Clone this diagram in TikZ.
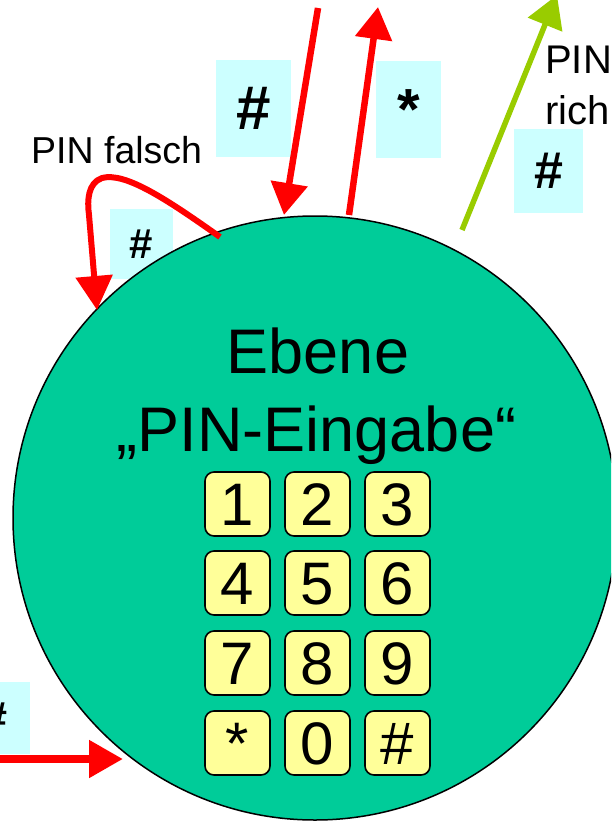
\documentclass[tikz,border=0pt]{standalone}
\usepackage{fontspec}
\setmainfont{Liberation Sans}
\usetikzlibrary{arrows.meta}
\definecolor{redarr}{RGB}{255,0,0}
\definecolor{greenarr}{RGB}{153,204,0}
\definecolor{boxcyan}{RGB}{204,255,255}
\definecolor{levelgreen}{RGB}{0,204,153}
\definecolor{keyyellow}{RGB}{255,255,153}
\begin{document}
\begin{tikzpicture}[x=1pt,y=-1pt,
  hashbox/.style={fill=boxcyan, inner sep=0pt, font=\bfseries},
  keybox/.style={draw=black, line width=1.6pt, fill=keyyellow, rounded corners=9pt,
    minimum width=65pt, minimum height=64pt, inner sep=0pt,
    text height=43pt, text depth=0pt, font=\fontsize{60}{60}\selectfont},
  redarrow/.style={draw=redarr, line width=6.5pt, -{Triangle[length=32pt,width=36pt]}},
  greenarrow/.style={draw=greenarr, line width=5.5pt, -{Triangle[length=32pt,width=36pt]}},
  bigtext/.style={font=\fontsize{63}{63}\selectfont, inner sep=0pt, anchor=base},
  smalltext/.style={font=\fontsize{37.5}{37.5}\selectfont, inner sep=0pt, anchor=base west},
  midtext/.style={font=\fontsize{40}{40}\selectfont, inner sep=0pt, anchor=base west}]
\useasboundingbox (0,0) rectangle (611,821);
\clip (0,0) rectangle (611,821);

% cyan label boxes
\node[hashbox, minimum width=75pt, minimum height=97pt, font=\bfseries\fontsize{62}{62}\selectfont] (h1) at (253.5,108.5) {\#};
\node[hashbox, minimum width=65pt, minimum height=97pt, font=\bfseries\fontsize{58}{58}\selectfont] (s1) at (408.5,110) {*};
\node[hashbox, minimum width=69pt, minimum height=84pt, font=\bfseries\fontsize{52}{52}\selectfont] (h3) at (548.5,171) {\#};
\node[hashbox, minimum width=63pt, minimum height=70pt, font=\bfseries\fontsize{42}{42}\selectfont] (h2) at (141.5,244) {\#};
\node[hashbox, minimum width=70pt, minimum height=72pt, font=\bfseries\fontsize{45}{45}\selectfont] (h4) at (-5,718) {\#};

% level circle
\node[circle, draw=black, line width=1.5pt, fill=levelgreen, minimum size=604pt, inner sep=0pt] (level) at (315,518) {};

% title
\node[bigtext] (ebene) at (318,373) {Ebene};
\node[bigtext] (pintitle) at (316.5,451) {„PIN-Eingabe“};

% keypad
\node[keybox] (k1) at (237.5,504) {1};
\node[keybox] (k2) at (317.5,504) {2};
\node[keybox] (k3) at (397.5,504) {3};
\node[keybox] (k4) at (237.5,583) {4};
\node[keybox] (k5) at (317.5,583) {5};
\node[keybox] (k6) at (397.5,583) {6};
\node[keybox] (k7) at (237.5,663) {7};
\node[keybox] (k8) at (317.5,663) {8};
\node[keybox] (k9) at (397.5,663) {9};
\node[keybox] (kstar) at (237.5,743) {*};
\node[keybox] (k0) at (317.5,743) {0};
\node[keybox] (khash) at (397.5,743) {\#};

% labels
\node[smalltext] (falsch) at (31,164) {PIN falsch};
\node[midtext] (pin) at (545,74) {PIN};
\node[midtext] (rich) at (545,125) {rich};

% connectors
\coordinate (ds) at (318,8);
\coordinate (de) at (284,215);
\draw[redarrow] (ds) -- (de);
\coordinate (us) at (349,215);
\coordinate (ue) at (378,7);
\draw[redarrow] (us) -- (ue);
\coordinate (gs) at (462,230);
\coordinate (ge) at (557,-5);
\draw[greenarrow] (gs) -- (ge);
\coordinate (fs) at (220,237);
\coordinate (fe) at (97,310);
\draw[draw=redarr, line width=6pt, line join=round, -{Triangle[length=34pt,width=36pt]}]
  (fs) .. controls (165,198) and (125,172) .. (102,178)
       .. controls (88,183) and (87,200) .. (89,215) -- (fe);
\coordinate (bs) at (-20,759);
\coordinate (be) at (123,759);
\draw[draw=redarr, line width=8pt, -{Triangle[length=34pt,width=36pt]}] (bs) -- (be);
\end{tikzpicture}
\end{document}
